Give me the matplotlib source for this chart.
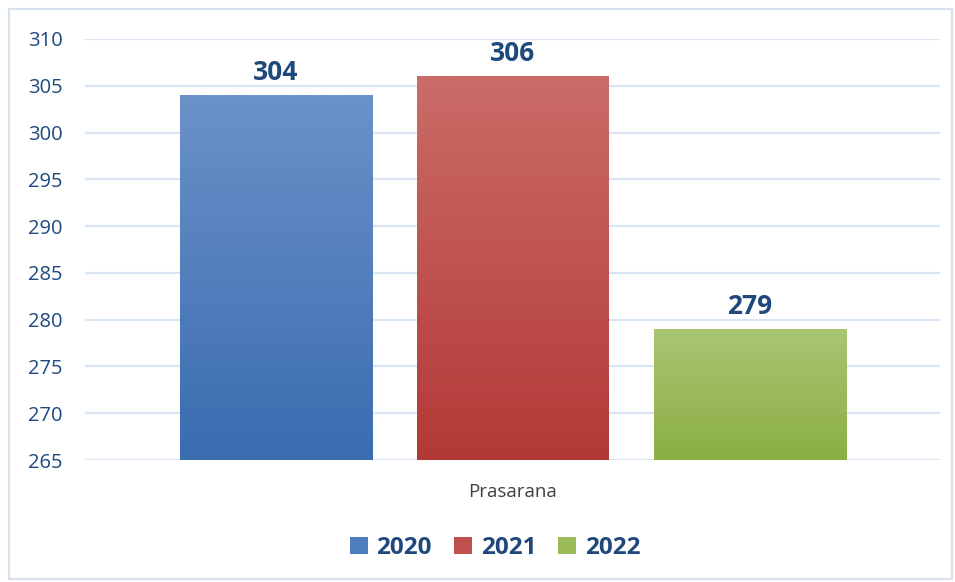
import matplotlib
matplotlib.use("Agg")
import matplotlib.pyplot as plt
import numpy as np
from matplotlib.colors import LinearSegmentedColormap
from matplotlib.patches import Rectangle, Patch

years = ["2020", "2021", "2022"]
values = [304, 306, 279]
category = "Prasarana"
yticks = [265, 270, 275, 280, 285, 290, 295, 300, 305, 310]

# (top, bottom) gradient colours per series
GRADS = [("#6B91C9", "#3A6CB0"), ("#CB6C68", "#B33936"), ("#A9C574", "#8BAF42")]
LEGEND_COLORS = ["#4F7EC0", "#C0504D", "#9BBB59"]
TEXT = "#1F497D"
GRID = "#D9E4F5"

W, H = 955, 582
fig = plt.figure(figsize=(W / 100, H / 100), dpi=100)
ax = fig.add_axes([85 / W, (H - 460) / H, (940 - 85) / W, (460 - 39) / H])

# bars in pixel-like x units so widths match the reference
xs = [276, 513, 749.5]
width = 192

grad = np.linspace(0, 1, 256).reshape(-1, 1)
for x, v, (top, bot) in zip(xs, values, GRADS):
    bar = ax.bar(x, v - 265, width=width, bottom=265, color="none", zorder=3)[0]
    cmap = LinearSegmentedColormap.from_list("g", [bot, top])
    im = ax.imshow(grad, cmap=cmap, aspect="auto", origin="lower",
                   extent=[x - width / 2, x + width / 2, 265, v], zorder=3)
    im.set_clip_path(bar)
    ax.text(x, v + 1.0, str(v), ha="center", va="bottom", fontsize=19,
            fontweight="bold", color=TEXT, family="Open Sans")

ax.set_xlim(85, 940)
ax.set_ylim(265, 310)
ax.set_yticks(yticks)
ax.set_yticklabels([str(t) for t in yticks], fontsize=14.5, color=TEXT, family="Open Sans")
ax.tick_params(axis="y", length=0, pad=16)
ax.set_xticks([])
ax.grid(axis="y", color=GRID, lw=1.6, zorder=0)
ax.set_axisbelow(True)
for s in ax.spines.values():
    s.set_visible(False)

fig.text(512 / W, 1 - 492 / H, category, ha="center", va="center",
         fontsize=13.5, color="#404040", family="Open Sans")

handles = [Patch(facecolor=c, edgecolor="none") for c in LEGEND_COLORS]
leg = fig.legend(handles, years, loc="center", bbox_to_anchor=(495 / W, 1 - 548 / H),
                 ncol=3, frameon=False, handlelength=0.75, handleheight=0.75,
                 handletextpad=0.35, columnspacing=0.9,
                 prop={"family": "Open Sans", "weight": "bold", "size": 17.5})
for t in leg.get_texts():
    t.set_color(TEXT)

fig.patches.append(Rectangle((9 / W, 3 / H), (952 - 9) / W, (573 - 3) / H,
                             transform=fig.transFigure, fill=False,
                             edgecolor="#D6E0EF", lw=1.5))

fig.savefig("out.png", dpi=100)
